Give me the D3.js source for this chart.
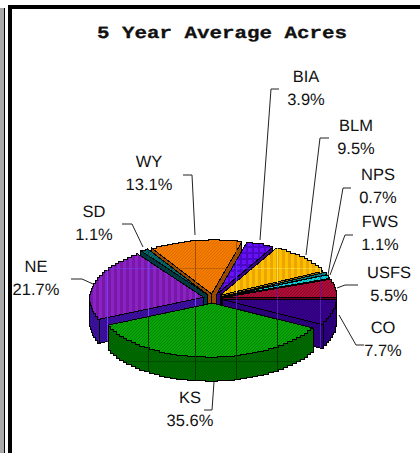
<!DOCTYPE html>
<html><head><meta charset="utf-8">
<script src="https://cdn.jsdelivr.net/npm/d3@7"></script>
<style>html,body{margin:0;padding:0;background:#fff;overflow:hidden}svg{display:block}text{text-rendering:geometricPrecision}</style>
</head><body><script>
const categories = ["CO","KS","NE","SD","WY","BIA","BLM","NPS","FWS","USFS"];
const percents = [7.7,35.6,21.7,1.1,13.1,3.9,9.5,0.7,1.1,5.5];
const percentLabels = ["7.7%","35.6%","21.7%","1.1%","13.1%","3.9%","9.5%","0.7%","1.1%","5.5%"];
const topColors = ["#38008c","#08a408","#8a22c4","#006c70","#f47c00","#6a10f4","#fcc000","#008c8c","#10d0d8","#b00c38"];
const hatchColors = ["#280070","#008800","#7818a8","#004c50","#e06c00","#4c08c8","#eca400","#006060","#00a0a8","#880828"];
const sideColors = ["#2c0080","#006c00","#3c10a0","#003c44","#a04c00","#3c0094","#a07000","#004040","#007c80","#700020"];
const gridColors = ["#5020b0","#003800","#7040f0","#004040","#a05000","#5030ff","#f8e050","#0050a0","#0050a0","#70108c"];
const patternKinds = ["diag","diag","stripe","diag","diag","grid","stripe","diag","diag","diag"];
const labelAnchors = [[383,333],[190,403],[36,272],[94,217],[149,167],[306,82],[356,131],[378,180],[380,227],[389,278]];
const leaders = [
 [[364,345],[356,345],[339,315]],
 [[204,410],[212,410],[214,382]],
 [[71,279],[82,279],[93,284]],
 [[122,224],[132,224],[143,247]],
 [[183,175],[192,175],[195,235]],
 [[279,89],[271,89],[260,240]],
 [[329,138],[320,138],[306,255]],
 [[351,188],[343,188],[328,275]],
 [[353,235],[345,235],[330,275]],
 [[358,285],[345,285],[337,288]]
];
const gridX = [107,148,195,236,277,320];
const gridY = [268,361];

const W=420,H=453, cx=213, cy=298.5, rx=114, ry=54, depth=24, explode=0.085;
const svg=d3.select("body").append("svg").attr("width",W).attr("height",H);
const defs=svg.append("defs");

svg.append("rect").attr("x",0).attr("y",8).attr("width",4).attr("height",H-8).attr("fill","#a8a8a8");
svg.append("rect").attr("x",4).attr("y",8).attr("width",1).attr("height",H-8).attr("fill","#000");
svg.append("rect").attr("x",8).attr("y",5).attr("width",W-8).attr("height",4).attr("fill","#000");
svg.append("rect").attr("x",8).attr("y",5).attr("width",4).attr("height",H-5).attr("fill","#000");

svg.append("text").text("5 Year Average Acres")
  .attr("x",97).attr("y",38).attr("textLength",250).attr("lengthAdjust","spacingAndGlyphs")
  .attr("font-family","'Liberation Mono',monospace").attr("font-weight","bold").attr("font-size",17).attr("fill","#111")
  .attr("stroke","#111").attr("stroke-width",0.3);

const sx=d3.scaleLinear().domain([-1,1]).range([-rx,rx]);
const sy=d3.scaleLinear().domain([-1,1]).range([-ry,ry]);
const arcs=d3.pie().sort(null).value(d=>d).startAngle(0).endAngle(2*Math.PI)(percents);
const line=d3.line();
const STEP=Math.PI/60;

function stairs(pts){
  const out=[];
  pts.forEach((p,k)=>{
    if(k>0) out.push([p[0],pts[k-1][1]]);
    out.push(p);
  });
  return out;
}
function mkPattern(id,base,hatch,kind){
  const size = kind==="stripe"?6:(kind==="grid"?6:3);
  const p=defs.append("pattern").attr("id",id).attr("patternUnits","userSpaceOnUse")
    .attr("width",size).attr("height",size);
  p.append("rect").attr("width",size).attr("height",size).attr("fill",base);
  if(kind==="stripe"){
    p.append("rect").attr("x",0).attr("width",3).attr("height",size).attr("fill",hatch);
  } else if(kind==="grid"){
    p.append("rect").attr("x",0).attr("width",2).attr("height",size).attr("fill",hatch);
    p.append("rect").attr("y",0).attr("width",size).attr("height",2).attr("fill",hatch);
  } else {
    [[0,2],[1,1],[2,0]].forEach(c=>p.append("rect").attr("x",c[0]).attr("y",c[1]).attr("width",1).attr("height",1).attr("fill",hatch));
  }
}
const order=d3.range(arcs.length).sort((a,b)=>{
  const m=i=>(arcs[i].startAngle+arcs[i].endAngle)/2;
  return Math.sin(m(a))-Math.sin(m(b));
});
const pie=svg.append("g");
order.forEach(i=>{
  const a=arcs[i], a0=a.startAngle, a1=a.endAngle, mid=(a0+a1)/2;
  const ox=cx+sx(explode*Math.cos(mid)), oy=cy+sy(explode*Math.sin(mid));
  const pt=(t,z=0)=>[ox+sx(Math.cos(t)), oy+sy(Math.sin(t))+z];
  const sweep=(s,e,z)=>stairs(d3.range(s,e,STEP).concat([e]).map(t=>pt(t,z)));
  const apex=[ox,oy];
  mkPattern("t"+i,topColors[i],hatchColors[i],patternKinds[i]);
  mkPattern("s"+i,sideColors[i],d3.color(sideColors[i]).darker(0.5).formatHex(),"diag");
  const g=pie.append("g").attr("shape-rendering","crispEdges");
  const clipShapes=[];
  const wall=(pts)=>{
    clipShapes.push(pts);
    g.append("path").attr("d",line(pts)+"Z").attr("fill",`url(#s${i})`).attr("stroke","#000").attr("stroke-width",1);
  };
  if(Math.cos(a0)<0){const e=pt(a0);wall([apex,e,[e[0],e[1]+depth],[apex[0],apex[1]+depth]]);}
  if(Math.cos(a1)>0){const e=pt(a1);wall([apex,e,[e[0],e[1]+depth],[apex[0],apex[1]+depth]]);}
  const f0=Math.max(a0,0), f1=Math.min(a1,Math.PI);
  if(f1>f0){
    wall(sweep(f0,f1,0).concat(sweep(f0,f1,depth).reverse()));
  }
  const topPts=[apex].concat(sweep(a0,a1,0));
  clipShapes.push(topPts);
  g.append("path").attr("d",line(topPts)+"Z").attr("fill",`url(#t${i})`).attr("stroke","#000").attr("stroke-width",1);
  const clip=defs.append("clipPath").attr("id","c"+i);
  clipShapes.forEach(s=>clip.append("path").attr("d",line(s)+"Z"));
  const gl=g.append("g").attr("clip-path",`url(#c${i})`).attr("stroke",gridColors[i]).attr("stroke-width",1);
  gridX.forEach(x=>gl.append("line").attr("x1",x+.5).attr("x2",x+.5).attr("y1",200).attr("y2",400));
  gridY.forEach(y=>gl.append("line").attr("x1",80).attr("x2",345).attr("y1",y+.5).attr("y2",y+.5).attr("opacity",.55));
});

svg.append("g").selectAll("path").data(leaders).join("path")
  .attr("d",d=>line(d)).attr("fill","none").attr("stroke","#222").attr("stroke-width",1);

const lab=svg.append("g").attr("font-family","'Liberation Sans',Arial,sans-serif").attr("font-size",16.5)
  .attr("fill","#111").attr("text-anchor","middle");
categories.forEach((c,i)=>{
  const [x,y]=labelAnchors[i];
  lab.append("text").attr("x",x).attr("y",y).text(c);
  lab.append("text").attr("x",x).attr("y",y+23).text(percentLabels[i]);
});
</script></body></html>
